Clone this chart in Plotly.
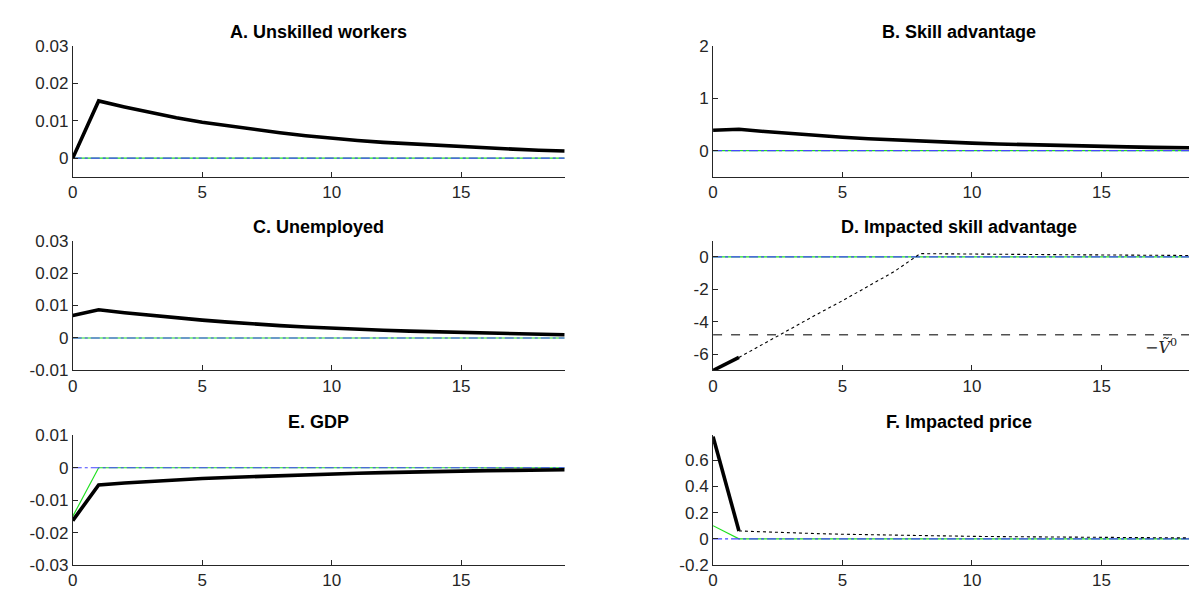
import plotly.graph_objects as go

# ---------------- data ----------------
t = list(range(20))

unskilled = [0.0, 0.0153, 0.0137, 0.0122, 0.0108, 0.0096, 0.0086, 0.0077, 0.0068, 0.0060,
             0.0053, 0.0047, 0.0042, 0.0038, 0.0034, 0.0031, 0.0027, 0.0024, 0.0021, 0.0019]
skill_adv = [0.39, 0.41, 0.365, 0.325, 0.29, 0.255, 0.228, 0.203, 0.181, 0.161,
             0.143, 0.127, 0.113, 0.101, 0.090, 0.080, 0.071, 0.063, 0.056, 0.050]
unemployed = [0.0069, 0.0087, 0.0078, 0.0070, 0.0062, 0.0055, 0.0049, 0.0043, 0.0038, 0.0034,
              0.0030, 0.0027, 0.0024, 0.0021, 0.0019, 0.0017, 0.0015, 0.0013, 0.0012, 0.0010]
imp_skill_t = [0, 1]
imp_skill = [-7.0, -6.2]
imp_skill_path_t = list(range(1, 20))
imp_skill_path = [-6.2, -5.3, -4.4, -3.55, -2.7, -1.8, -0.9, 0.2, 0.18, 0.17,
                  0.16, 0.15, 0.14, 0.13, 0.12, 0.11, 0.10, 0.09, 0.08]
threshold = -4.8
gdp = [-0.0163, -0.0053, -0.0047, -0.0042, -0.0037, -0.0033, -0.0030, -0.0027, -0.0024, -0.0021,
       -0.0019, -0.0017, -0.0015, -0.0013, -0.0012, -0.0011, -0.0009, -0.0008, -0.0007, -0.0006]
gdp_alt = [-0.015] + [0.0] * 19
price_t = [0, 1]
price = [0.78, 0.06]
price_path_t = list(range(1, 20))
price_path = [0.06, 0.052, 0.045, 0.040, 0.035, 0.031, 0.027, 0.024, 0.021, 0.019,
              0.017, 0.015, 0.013, 0.012, 0.010, 0.009, 0.008, 0.007, 0.006]
price_alt = [0.10] + [0.0] * 19
zeros = [0.0] * 20

titles = ["A. Unskilled workers", "B. Skill advantage", "C. Unemployed",
          "D. Impacted skill advantage", "E. GDP", "F. Impacted price"]
x_ticks = [0, 5, 10, 15]
y_specs = [
    ([-0.005, 0.03], [0, 0.01, 0.02, 0.03], ["0", "0.01", "0.02", "0.03"]),
    ([-0.5, 2], [0, 1, 2], ["0", "1", "2"]),
    ([-0.01, 0.03], [-0.01, 0, 0.01, 0.02, 0.03], ["-0.01", "0", "0.01", "0.02", "0.03"]),
    ([-7, 1], [-6, -4, -2, 0], ["-6", "-4", "-2", "0"]),
    ([-0.03, 0.01], [-0.03, -0.02, -0.01, 0, 0.01], ["-0.03", "-0.02", "-0.01", "0", "0.01"]),
    ([-0.2, 0.79], [-0.2, 0, 0.2, 0.4, 0.6], ["-0.2", "0", "0.2", "0.4", "0.6"]),
]

# ---------------- layout geometry ----------------
W, H = 1197, 599
col_dom = [[60 / W, 554 / W], [703 / W, 1.0]]
row_px = [(30, 165), (231, 365), (432, 566)]
row_dom = [[1 - b / H, 1 - tp / H] for tp, b in row_px]

AX = "#262626"
BLACK = "#000000"
BLUE = "#4646ff"
GREEN = "#22e022"
FONT = "Liberation Sans, Arial, Helvetica, sans-serif"
TICK_SIZE = 17
TITLE_SIZE = 18

fig = go.Figure()

main_series = [
    (t, unskilled), (t, skill_adv), (t, unemployed),
    (imp_skill_t, imp_skill), (t, gdp), (price_t, price),
]
green_series = [zeros, zeros, zeros, zeros, gdp_alt, price_alt]

for i in range(6):
    xa = "x" if i == 0 else f"x{i+1}"
    ya = "y" if i == 0 else f"y{i+1}"
    fig.add_trace(go.Scatter(x=t, y=green_series[i], mode="lines", xaxis=xa, yaxis=ya,
                             line=dict(color=GREEN, width=1.2), showlegend=False, hoverinfo="skip"))
    fig.add_trace(go.Scatter(x=t, y=zeros, mode="lines", xaxis=xa, yaxis=ya,
                             line=dict(color=BLUE, width=1.2, dash="dashdot"), showlegend=False,
                             hoverinfo="skip"))
    if i == 3:
        fig.add_trace(go.Scatter(x=[0, 19], y=[threshold, threshold], mode="lines", xaxis=xa, yaxis=ya,
                                 line=dict(color="#505050", width=1.3, dash="dash"), showlegend=False))
        fig.add_trace(go.Scatter(x=imp_skill_path_t, y=imp_skill_path, mode="lines", xaxis=xa, yaxis=ya,
                                 line=dict(color=BLACK, width=1.1, dash="dot"), showlegend=False))
    if i == 5:
        fig.add_trace(go.Scatter(x=price_path_t, y=price_path, mode="lines", xaxis=xa, yaxis=ya,
                                 line=dict(color=BLACK, width=1.1, dash="dot"), showlegend=False))
    xs, ys = main_series[i]
    fig.add_trace(go.Scatter(x=xs, y=ys, mode="lines", xaxis=xa, yaxis=ya,
                             line=dict(color=BLACK, width=3.6), showlegend=False))

layout = dict(
    width=W, height=H, autosize=False,
    margin=dict(l=0, r=0, t=0, b=0),
    paper_bgcolor="white", plot_bgcolor="white",
    font=dict(family=FONT, size=TICK_SIZE, color=AX),
    annotations=[],
)

for i in range(6):
    r, c = divmod(i, 2)
    xk = "xaxis" if i == 0 else f"xaxis{i+1}"
    yk = "yaxis" if i == 0 else f"yaxis{i+1}"
    xa = "x" if i == 0 else f"x{i+1}"
    ya = "y" if i == 0 else f"y{i+1}"
    yr, yv, yt = y_specs[i]
    layout[xk] = dict(domain=col_dom[c], anchor=ya, range=[0, 19], tickvals=x_ticks,
                      ticktext=[str(v) for v in x_ticks], showline=True, linecolor=AX, linewidth=1,
                      ticks="inside", ticklen=5, tickcolor=AX, showgrid=False, zeroline=False,
                      tickfont=dict(size=TICK_SIZE, color=AX), fixedrange=True)
    layout[yk] = dict(domain=row_dom[r], anchor=xa, range=yr, tickvals=yv, ticktext=yt,
                      showline=True, linecolor=AX, linewidth=1, ticks="inside", ticklen=5,
                      tickcolor=AX, showgrid=False, zeroline=False,
                      tickfont=dict(size=TICK_SIZE, color=AX), fixedrange=True)
    layout["annotations"].append(dict(
        text=f"<b>{titles[i]}</b>", xref="paper", yref="paper",
        x=(col_dom[c][0] + col_dom[c][1]) / 2, y=1 - (row_px[r][0] - 14) / H,
        xanchor="center", yanchor="middle", showarrow=False,
        font=dict(family=FONT, size=TITLE_SIZE, color=BLACK)))

layout["annotations"].append(dict(
    text="<i>\u2212V\u0303</i><sup>0</sup>", xref="x4", yref="y4", x=17.3, y=-5.55,
    xanchor="center", yanchor="middle", showarrow=False,
    font=dict(family="DejaVu Serif, Liberation Serif, serif", size=16, color=AX)))

fig.update_layout(**layout)
fig.write_html("out.html")
